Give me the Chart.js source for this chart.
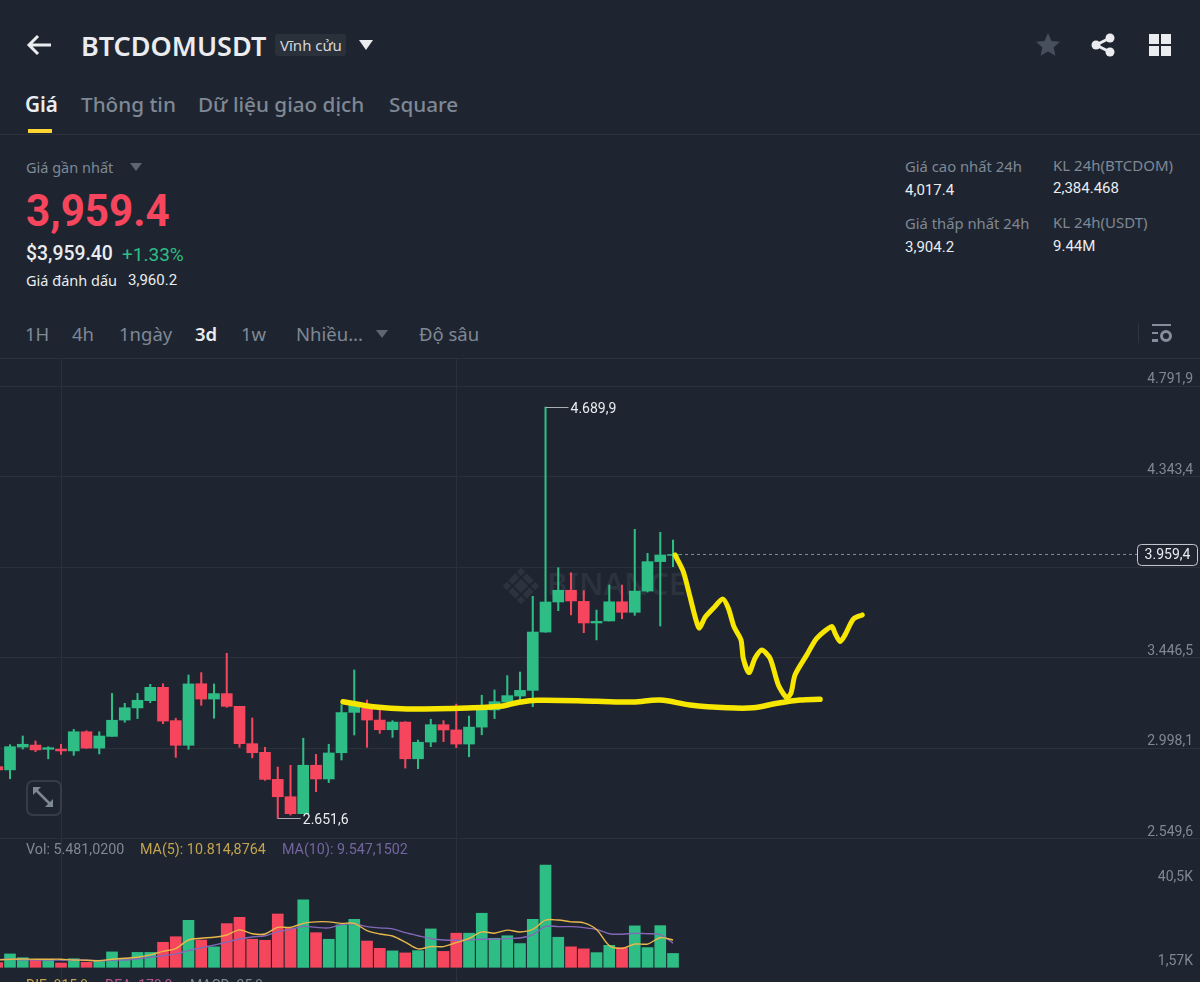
<!DOCTYPE html>
<html lang="vi">
<head>
<meta charset="UTF-8">
<title>BTCDOMUSDT</title>
<script src="https://cdn.jsdelivr.net/npm/chart.js"></script>
<style>
    html, body { margin: 0; padding: 0; width: 1200px; height: 982px; overflow: hidden; background: #1e2530; }
    body { position: relative; font-family: "Noto Sans", sans-serif; color: #eaecef; }
    .t { position: absolute; white-space: nowrap; line-height: 1; }
    .gray { color: #7f8895; }
    .num { font-family: Roboto, sans-serif; }
    .line { position: absolute; left: 0; width: 1200px; height: 1px; background: #2a313b; }
    canvas { position: absolute; left: 0; }
    svg { position: absolute; }
</style>
</head>
<body>
    <svg style="left:26px;top:33px" width="28" height="24" viewBox="0 0 28 24"><path d="M25 12H4M12 3l-9 9 9 9" fill="none" stroke="#eaecef" stroke-width="3"/></svg>
    <div class="t" style="left:81px;top:32px;font-size:27px;font-weight:600">BTCDOMUSDT</div>
    <div class="t" style="left:275px;top:34px;width:71px;height:22px;background:#2a313b;border-radius:3px"></div>
    <div class="t" style="left:280px;top:38px;font-size:15px;color:#d5d8dc">Vĩnh cửu</div>
    <svg style="left:358px;top:39px" width="16" height="12"><path d="M1 1h14l-7 10z" fill="#eaecef"/></svg>
    <svg style="left:1035px;top:32px" width="26" height="26" viewBox="0 0 24 24"><path d="M12 1l3.3 7.3 7.7.8-5.8 5.2 1.7 7.7-6.9-4-6.9 4 1.7-7.7L1 9.1l7.7-.8z" fill="#474f5c"/></svg>
    <svg style="left:1090px;top:32px" width="26" height="26" viewBox="0 0 26 26"><path d="M20 6L6 13l14 7" fill="none" stroke="#eaecef" stroke-width="3"/><circle cx="20" cy="6" r="4.5" fill="#eaecef"/><circle cx="6" cy="13" r="4.5" fill="#eaecef"/><circle cx="20" cy="20" r="4.5" fill="#eaecef"/></svg>
    <svg style="left:1149px;top:34px" width="22" height="22"><path d="M0 0h10v10H0zM12 0h10v10H12zM0 12h10v10H0zM12 12h10v10H12z" fill="#eaecef"/></svg>

    <div class="t" style="left:25px;top:94px;font-size:20.7px;font-weight:600">Giá</div>
    <div class="t gray" style="left:81px;top:94px;font-size:20.7px;font-weight:500">Thông tin</div>
    <div class="t gray" style="left:198px;top:94px;font-size:20.7px;font-weight:500">Dữ liệu giao dịch</div>
    <div class="t gray" style="left:389px;top:94px;font-size:20.7px;font-weight:500">Square</div>
    <div class="t" style="left:28px;top:129px;width:24px;height:4px;background:#fcd535"></div>
    <div class="line" style="top:134px"></div>

    <div class="t gray" style="left:26px;top:160px;font-size:14.5px">Giá gần nhất</div>
    <svg style="left:130px;top:163px" width="12" height="9"><path d="M0 0h12L6 8z" fill="#5e6673"/></svg>
    <div class="t num" style="left:26px;top:189px;font-size:44px;font-weight:700;color:#f6465d;transform:scaleX(.96);transform-origin:left">3,959.4</div>
    <div class="t num" style="left:26px;top:244px;font-size:19.4px;font-weight:500">$3,959.40</div>
    <div class="t num" style="left:122px;top:245px;font-size:19px;color:#2ebd85">+1.33%</div>
    <div class="t" style="left:26px;top:273px;font-size:14.5px">Giá đánh dấu</div>
    <div class="t num" style="left:128px;top:273px;font-size:15px">3,960.2</div>

    <div class="t gray" style="left:905px;top:159px;font-size:14.8px">Giá cao nhất 24h</div>
    <div class="t num" style="left:905px;top:183px;font-size:15px">4,017.4</div>
    <div class="t gray" style="left:905px;top:216px;font-size:14.8px">Giá thấp nhất 24h</div>
    <div class="t num" style="left:905px;top:240px;font-size:15px">3,904.2</div>
    <div class="t gray" style="left:1053px;top:158px;font-size:15px">KL 24h(BTCDOM)</div>
    <div class="t num" style="left:1053px;top:181px;font-size:15px">2,384.468</div>
    <div class="t gray" style="left:1053px;top:215px;font-size:15px">KL 24h(USDT)</div>
    <div class="t num" style="left:1053px;top:239px;font-size:15px">9.44M</div>

    <div class="t gray" style="left:25px;top:325px;font-size:18.5px">1H</div>
    <div class="t gray" style="left:72px;top:325px;font-size:18.5px">4h</div>
    <div class="t gray" style="left:119px;top:325px;font-size:18.5px">1ngày</div>
    <div class="t" style="left:195px;top:325px;font-size:18.5px;font-weight:600">3d</div>
    <div class="t gray" style="left:241px;top:325px;font-size:18.5px">1w</div>
    <div class="t gray" style="left:296px;top:325px;font-size:18.5px">Nhiều...</div>
    <svg style="left:376px;top:330px" width="12" height="9"><path d="M0 0h12L6 8z" fill="#5e6673"/></svg>
    <div class="t gray" style="left:419px;top:325px;font-size:18.5px">Độ sâu</div>
    <div class="t" style="left:1138px;top:323px;width:1px;height:20px;background:#2f3641"></div>
    <svg style="left:1152px;top:324px" width="20" height="20"><path d="M0 0h19v2H0zM0 8h6v2H0zM0 15h6v3H0z" fill="#848e9c"/><circle cx="14" cy="12" r="4.5" fill="none" stroke="#848e9c" stroke-width="3"/></svg>
    <div class="line" style="top:358px"></div>

    <canvas id="priceChart" width="1200" height="484" style="top:358px"></canvas>
    <canvas id="volumeChart" width="1200" height="142" style="top:840px"></canvas>

    <div class="t" style="left:26px;top:780px;width:32px;height:32px;border:2px solid #363d48;border-radius:7px"></div>
    <svg style="left:32px;top:786px" width="22" height="22"><path d="M1 1h8L1 9zM21 21h-8l8-8z" fill="#7f8895"/><path d="M4 4l14 14" stroke="#7f8895" stroke-width="2.5"/></svg>

    <div class="t num gray" style="left:26px;top:842px;font-size:14.3px">Vol: 5.481,0200</div>
    <div class="t num" style="left:140px;top:842px;font-size:14.3px;color:#c4a44f">MA(5): 10.814,8764</div>
    <div class="t num" style="left:282px;top:842px;font-size:14.3px;color:#73659f">MA(10): 9.547,1502</div>
    <div class="t num" style="left:26px;top:978px;font-size:14px;color:#c4a44f">DIF: 815,8</div>
    <div class="t num" style="left:105px;top:978px;font-size:14px;color:#b4578f">DEA: 179,0</div>
    <div class="t num gray" style="left:190px;top:978px;font-size:14px">MACD: 35,8</div>

<script>
    // Values
    const opens = [2908,2892,3005,3015,2994,2995,2986,3081,3000,3058,3139,3199,3235,3301,3136,3014,3319,3243,3270,3207,3022,2979,2845,2759,2675,2915,2847,2977,3177,3197,3139,3091,3129,2947,3030,3116,3090,3020,3104,3189,3228,3258,3286,3575,3724,3782,3727,3620,3630,3725,3673,3778,3924,3955];
    const highs = [2910,3017,3060,3035,3007,3019,3093,3086,3081,3271,3222,3271,3316,3319,3148,3362,3374,3318,3470,3207,3149,3004,2906,2915,3049,2969,3019,3215,3387,3238,3197,3136,3131,3040,3143,3136,3218,3159,3262,3288,3359,3377,3752,4689.9,3894,3869,3780,3684,3808,3808,4084,3965,4069,4031];
    const lows = [2890,2848,2995,2982,2947,2969,2964,2999,2971,3058,3128,3146,3225,3121,2954,2994,3212,3148,3202,3004,2952,2840,2651.6,2668,2675,2784,2829,2941,3065,3004,3073,3053,2901,2898,3007,3032,3002,2957,3066,3146,3225,3238,3205,3574,3681,3660,3572,3536,3630,3641,3658,3773,3605,3899];
    const closes = [2892,3007,3019,2991,3002,2986,3081,3000,3060,3138,3200,3237,3301,3134,3014,3318,3243,3270,3207,3022,2977,2845,2759,2675,2915,2847,2976,3176,3214,3139,3091,3129,2947,3029,3116,3090,3020,3104,3189,3230,3260,3286,3575,3724,3782,3729,3620,3628,3725,3673,3778,3924,3957,3959.4];
    const volumes = [1.85,5.3,3.8,2.9,2.9,1.7,3.4,2.0,2.8,6.1,3.4,5.9,5.9,9.9,12.1,18.6,10.8,8.1,17.3,19.8,11.1,10.7,21.1,15.4,26.7,13.7,11.1,16.8,19.0,10.4,7.5,6.5,5.7,6.6,15.2,6.3,13.5,13.5,21.4,11.5,12.5,9.4,19.0,40.5,11.9,8.1,7.3,5.8,8.7,7.8,16.4,7.8,16.5,5.48];
    const ma5 = [2.9,3.2,3.3,3.2,3.2,3.2,2.9,2.8,2.6,3.2,3.6,4.0,4.9,6.3,7.4,10.8,11.5,11.9,12.8,14.8,13.3,13.2,15.8,15.8,17.4,18,18,17.4,17.4,14.5,13.2,12.4,10,7.3,8.2,8.2,9.8,11.4,14,13.5,14.7,14,15,18.7,18.7,18,17.6,15,8.6,7.5,9.2,9.2,11.7,10.81];
    const ma10 = [3,3.2,3,2.9,2.9,2.9,2.9,2.8,2.6,2.8,2.9,3.4,4,4.6,5.3,6.6,7.7,8.8,10,11.2,12,12.5,14.1,15,16.2,15.8,15.6,16.9,17.2,16.1,15.6,15.2,13.7,12.5,11.4,10.8,10.7,10.8,11.1,11.1,11.4,11.6,12.9,16.2,16.1,16.1,15.7,15,13.3,13.1,13.5,13.3,12.9,9.55];

    const priceTicks = [2549.6, 2998.1, 3446.5, 3895, 4343.4, 4791.9];
    const priceTickLabels = ['2.549,6', '2.998,1', '3.446,5', '', '4.343,4', '4.791,9'];
    const timeTicks = [5, 36];
    const volumeTicks = [40.5, 1.57];
    const volumeTickLabels = ['40,5K', '1,57K'];
    const lastPrice = 3959.4;

    // hand drawn yellow strokes on top of the screenshot
    const supportX = [27.12,29.47,32.14,37.31,39.67,40.76,42.33,47.04,49.86,51.98,54.33,57.24,59.27,61.16,62.96,64.53];
    const supportY = [3230,3205,3194,3200,3209,3225,3237,3232,3228,3238,3214,3200,3200,3222,3238,3242];
    const sketchX = [53.16,53.81,54.33,54.73,55.06,55.51,56.16,56.9,57.34,57.78,58.33,58.51,58.96,59.43,59.96,60.61,61.26,61.92,62.25,62.57,63.49,64.27,65.45,65.71,66.1,66.49,67.14,67.84];
    const sketchY = [3957,3874,3750,3651,3594,3648,3693,3739,3693,3602,3536,3445,3374,3445,3486,3445,3313,3250,3272,3363,3462,3544,3602,3569,3528,3561,3639,3660];

    const UP = '#2ebd85';
    const DOWN = '#f6465d';
    const GRID = '#2a313b';
    const slots = opens.map((_, i) => i);
    const candleColors = slots.map(i => closes[i] >= opens[i] ? UP : DOWN);
    const xRange = { min: 0.2157, max: 94.33 };

    function xAxis() {
        return {
            type: 'linear',
            min: xRange.min,
            max: xRange.max,
            offset: false,
            border: { display: false },
            grid: { color: GRID, drawTicks: false, offset: false },
            ticks: { display: false },
            afterBuildTicks: s => { s.ticks = timeTicks.map(v => ({ value: v })); }
        };
    }

    const priceOverlay = {
        id: 'priceOverlay',
        beforeDatasetsDraw(chart) {
            // faint watermark
            const c = chart.ctx;
            c.save();
            c.fillStyle = '#2c333f';
            c.font = '600 31px "Noto Sans"';
            c.textBaseline = 'middle';
            c.fillText('BINANCE', 547, 228);
            c.translate(521, 228);
            c.rotate(Math.PI / 4);
            c.fillRect(-5, -5, 10, 10);
            c.fillRect(-13, -13, 6, 6);
            c.fillRect(7, 7, 6, 6);
            c.fillRect(-13, 7, 6, 6);
            c.fillRect(7, -13, 6, 6);
            c.fillRect(-5, -13, 10, 6);
            c.fillRect(-13, -5, 6, 10);
            c.fillRect(7, -5, 6, 10);
            c.fillRect(-5, 7, 10, 6);
            c.restore();
        },
        afterDatasetsDraw(chart) {
            const c = chart.ctx;
            const x = chart.scales.x;
            const y = chart.scales.y;
            c.save();
            c.font = '14px Roboto';
            c.textBaseline = 'middle';
            // high and low callouts
            const hi = highs.indexOf(Math.max(...highs));
            const lo = lows.indexOf(Math.min(...lows));
            [[hi, highs[hi], '4.689,9'], [lo, lows[lo], '2.651,6']].forEach(([i, v, label]) => {
                const px = x.getPixelForValue(i);
                const py = Math.round(y.getPixelForValue(v)) + 0.5;
                c.strokeStyle = '#a9aeb5';
                c.lineWidth = 1;
                c.beginPath();
                c.moveTo(px, py);
                c.lineTo(px + 23, py);
                c.stroke();
                c.fillStyle = '#eaecef';
                c.fillText(label, px + 25, py + 1.5);
            });
            // last price tag
            const py = y.getPixelForValue(lastPrice);
            c.fillStyle = '#1e2530';
            c.strokeStyle = '#c6cad0';
            c.lineWidth = 1;
            c.beginPath();
            c.roundRect(1137.5, py - 10, 60, 21, 4);
            c.fill();
            c.stroke();
            c.fillStyle = '#eaecef';
            c.textAlign = 'center';
            c.fillText('3.959,4', 1167.5, py + 1);
            c.restore();
        }
    };

    new Chart(document.getElementById('priceChart'), {
        data: {
            datasets: [
                {
                    type: 'line', data: supportX.map((v, i) => ({ x: v, y: supportY[i] })),
                    borderColor: '#f7e600', borderWidth: 5.5, pointRadius: 0, tension: 0.35,
                    borderCapStyle: 'round', borderJoinStyle: 'round', order: 0
                },
                {
                    type: 'line', data: sketchX.map((v, i) => ({ x: v, y: sketchY[i] })),
                    borderColor: '#f7e600', borderWidth: 5, pointRadius: 0, tension: 0.25,
                    borderCapStyle: 'round', borderJoinStyle: 'round', order: 0
                },
                {
                    type: 'line', data: [{ x: 53, y: lastPrice }, { x: 89.4, y: lastPrice }],
                    borderColor: '#858c97', borderWidth: 1, borderDash: [3, 3], pointRadius: 0, order: 1
                },
                {
                    type: 'bar', data: slots.map(i => ({ x: i, y: [opens[i], closes[i]] })),
                    backgroundColor: candleColors, barThickness: 11, grouped: false, order: 2
                },
                {
                    type: 'bar', data: slots.map(i => ({ x: i, y: [lows[i], highs[i]] })),
                    backgroundColor: candleColors, barThickness: 1.4, grouped: false, order: 3
                }
            ]
        },
        options: {
            responsive: false,
            animation: false,
            events: [],
            layout: { padding: 0 },
            plugins: { legend: { display: false }, tooltip: { enabled: false } },
            scales: {
                x: xAxis(),
                y: {
                    position: 'right',
                    min: 2534.7,
                    max: 4933,
                    border: { display: false },
                    grid: { color: GRID, drawTicks: false },
                    afterBuildTicks: s => { s.ticks = priceTicks.map(v => ({ value: v })); },
                    afterFit: s => { s.width = 0; s.paddingTop = 0; s.paddingBottom = 0; },
                    ticks: {
                        mirror: true,
                        padding: -7,
                        labelOffset: -6.5,
                        color: '#7f8895',
                        font: { family: 'Roboto', size: 14 },
                        callback: (v, i) => priceTickLabels[i]
                    }
                }
            }
        },
        plugins: [priceOverlay]
    });

    const volumeLabels = {
        id: 'volumeLabels',
        afterDatasetsDraw(chart) {
            const c = chart.ctx;
            const y = chart.scales.y;
            c.save();
            c.font = '14px Roboto';
            c.fillStyle = '#7f8895';
            c.textAlign = 'right';
            c.textBaseline = 'middle';
            volumeTicks.forEach((v, i) => {
                c.fillText(volumeTickLabels[i], 1193, y.getPixelForValue(v) + (i === 0 ? 12 : -2));
            });
            c.restore();
        }
    };

    new Chart(document.getElementById('volumeChart'), {
        data: {
            datasets: [
                {
                    type: 'line', data: slots.map(i => ({ x: i, y: ma5[i] })),
                    borderColor: '#e8b84a', borderWidth: 1.4, pointRadius: 0, tension: 0.3, order: 0
                },
                {
                    type: 'line', data: slots.map(i => ({ x: i, y: ma10[i] })),
                    borderColor: '#8468b8', borderWidth: 1.4, pointRadius: 0, tension: 0.3, order: 1
                },
                {
                    type: 'bar', data: slots.map(i => ({ x: i, y: volumes[i] })),
                    backgroundColor: candleColors, barThickness: 11, grouped: false, order: 2
                }
            ]
        },
        options: {
            responsive: false,
            animation: false,
            events: [],
            layout: { padding: 0 },
            plugins: { legend: { display: false }, tooltip: { enabled: false } },
            scales: {
                x: xAxis(),
                y: { display: false, min: -5.82, max: 50.4 }
            }
        },
        plugins: [volumeLabels]
    });
</script>
</body>
</html>
